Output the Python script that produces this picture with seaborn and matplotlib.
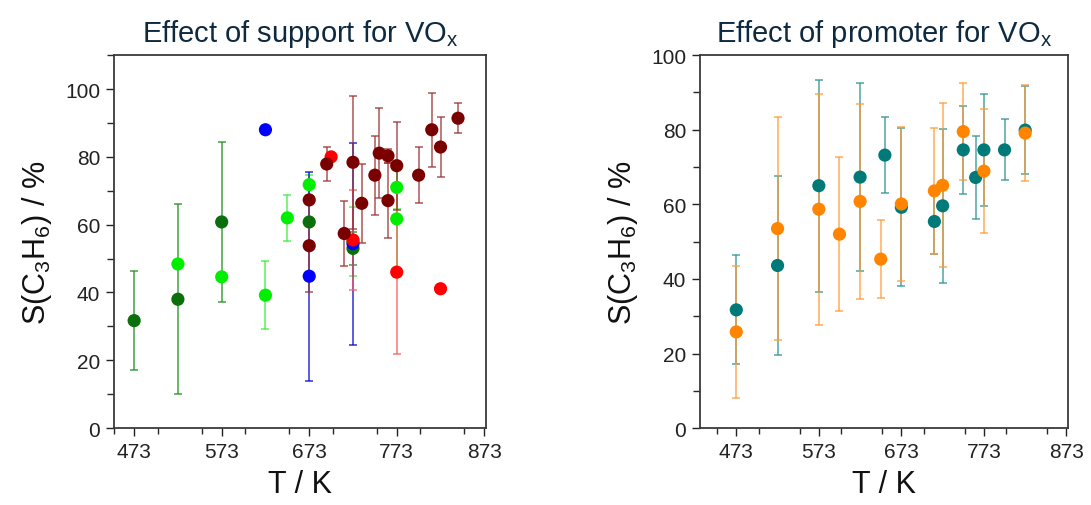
import numpy as np
import pandas as pd
import matplotlib
matplotlib.use("Agg")
import matplotlib.pyplot as plt
import seaborn as sns
from matplotlib.ticker import MultipleLocator

# left panel: effect of support
dkgreen_T = [473, 523, 573, 673, 723]
dkgreen_S = [31.7, 38.0, 60.8, 60.8, 53.0]
dkgreen_err = [14.7, 28.0, 23.6, 0.0, 4.9]

lime_T = [523, 573, 623, 648, 673, 723, 773, 773]
lime_S = [48.4, 44.6, 39.2, 62.0, 71.8, 55.1, 71.0, 61.7]
lime_err = [0.0, 0.0, 10.1, 6.9, 2.9, 10.1, 6.4, 15.5]

blue_T = [623, 673, 723]
blue_S = [88.0, 44.8, 54.4]
blue_err = [0.0, 30.8, 29.8]

red_T = [698, 723, 773, 823]
red_S = [80.0, 55.5, 46.0, 41.1]
red_err = [0.0, 14.7, 24.0, 0.0]

dkred_T = [673, 673, 693, 713, 723, 733, 748, 753, 763, 763, 773, 798, 813, 823, 843]
dkred_S = [67.3, 53.8, 77.9, 57.4, 78.4, 66.3, 74.6, 81.1, 80.3, 67.1, 77.4, 74.6, 88.0, 82.9, 91.4]
dkred_err = [0.0, 13.8, 5.0, 9.5, 19.6, 11.6, 11.7, 13.2, 2.0, 11.0, 13.0, 8.3, 10.9, 8.8, 4.5]

# right panel: effect of promoter
teal_T = [473, 523, 573, 623, 653, 673, 713, 723, 748, 763, 773, 798, 823]
teal_S = [31.7, 43.6, 65.0, 67.3, 73.2, 59.2, 55.4, 59.6, 74.6, 67.2, 74.6, 74.6, 79.9]
teal_err = [14.6, 23.9, 28.4, 25.3, 10.1, 21.2, 8.8, 20.7, 11.7, 11.0, 15.1, 8.2, 11.7]

orange_T = [473, 523, 573, 598, 623, 648, 673, 713, 723, 748, 773, 823]
orange_S = [25.8, 53.5, 58.7, 52.0, 60.8, 45.3, 60.1, 63.6, 65.1, 79.5, 68.9, 79.1]
orange_err = [17.7, 30.0, 31.0, 20.7, 26.2, 10.5, 20.6, 16.9, 22.0, 13.0, 16.7, 12.9]

xticks = [473, 573, 673, 773, 873]

sns.set_style("ticks")
plt.rcParams['font.family'] = ['Liberation Sans', 'DejaVu Sans']
plt.rcParams['mathtext.default'] = 'regular'

def make_df(groups):
    rows = []
    for name, T, S, err in groups:
        for t, s, e in zip(T, S, err):
            rows.append({"series": name, "T": t, "S": s, "err": e})
    return pd.DataFrame(rows)

left_df = make_df([
    ("dkgreen", dkgreen_T, dkgreen_S, dkgreen_err),
    ("lime", lime_T, lime_S, lime_err),
    ("blue", blue_T, blue_S, blue_err),
    ("red", red_T, red_S, red_err),
    ("dkred", dkred_T, dkred_S, dkred_err),
])
right_df = make_df([
    ("teal", teal_T, teal_S, teal_err),
    ("orange", orange_T, orange_S, orange_err),
])

colors = {"dkgreen": "#0b6f0b", "lime": "#00ee00", "blue": "#0000ff",
          "red": "#ff0000", "dkred": "#7a0000",
          "teal": "#007a78", "orange": "#ff8400"}
bar_colors = {"dkgreen": "#1a8c1a", "lime": "#33ee33", "blue": "#0000cc",
              "red": "#ff5555", "dkred": "#9a3030",
              "teal": "#2a9290", "orange": "#ff9a33"}

fig = plt.figure(figsize=(10.91, 5.06), dpi=100)
ax1 = fig.add_axes([0.1045, 0.152, 0.341, 0.737])
ax2 = fig.add_axes([0.6416, 0.152, 0.3374, 0.737])

title_color = "#0e2a40"

def draw(ax, df, ylim, xlim, title):
    for name, g in df.groupby("series", sort=False):
        e = g[g["err"] > 0]
        if len(e):
            ax.errorbar(e["T"], e["S"], yerr=e["err"], fmt="none",
                        ecolor=bar_colors[name], elinewidth=1.2, capsize=3,
                        capthick=1.2, alpha=0.75, zorder=2)
    sns.scatterplot(data=df, x="T", y="S", hue="series", palette=colors,
                    s=90, edgecolor="none", linewidth=0, legend=False,
                    ax=ax, zorder=3)
    ax.set_xlim(*xlim)
    ax.set_ylim(*ylim)
    ax.set_xticks(xticks)
    ax.xaxis.set_minor_locator(MultipleLocator(50))
    ax.yaxis.set_major_locator(MultipleLocator(20))
    ax.yaxis.set_minor_locator(MultipleLocator(10))
    ax.tick_params(axis="both", which="major", direction="out", length=6,
                   width=1, labelsize=15, colors="#222222", pad=4)
    ax.tick_params(axis="both", which="minor", direction="out", length=4, width=1)
    ax.tick_params(axis="y", which="minor", length=5)
    for sp in ax.spines.values():
        sp.set_visible(True)
        sp.set_color("#3a3a3a")
        sp.set_linewidth(1.3)
    ax.set_xlabel("T / K", fontsize=22, color="#111111", labelpad=6)
    ax.set_ylabel("S(C$_3$H$_6$) / %", fontsize=22, color="#111111", labelpad=8)
    ax.set_title(title, fontsize=21, color=title_color, pad=10)

draw(ax1, left_df, (0, 110), (450, 875), "Effect of support for VO$_x$")
draw(ax2, right_df, (0, 100), (429, 875), "Effect of promoter for VO$_x$")

fig.savefig("out.png", dpi=100)
